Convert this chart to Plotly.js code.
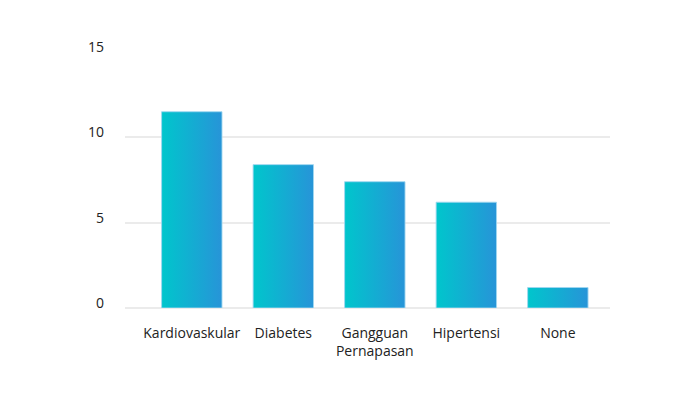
<!DOCTYPE html>
<html>
<head>
<meta charset="utf-8">
<script src="https://cdn.plot.ly/plotly-3.0.1.min.js"></script>
<style>html,body{margin:0;padding:0;background:#fff;}#chart{width:700px;height:394px;}</style>
</head>
<body>
<div id="chart"></div>
<script>
const categories = ["Kardiovaskular", "Diabetes", "Gangguan<br>Pernapasan", "Hipertensi", "None"];
const values = [11.5, 8.4, 7.4, 6.2, 1.2];
const yTicks = [0, 5, 10, 15];

const trace = {
  type: "bar",
  x: categories,
  y: values,
  marker: {color: "#12b0d2", line: {color: "rgba(160,215,240,0.9)", width: 1}},
  hoverinfo: "none"
};

const layout = {
  width: 700, height: 394,
  margin: {l: 125, r: 90, t: 52, b: 86},
  paper_bgcolor: "#fff", plot_bgcolor: "#fff",
  showlegend: false,
  bargap: 0.34,
  font: {family: "Open Sans, sans-serif", size: 14, color: "#222"},
  xaxis: {
    type: "category",
    range: [-0.73, 4.57],
    showgrid: false, showline: false, zeroline: false,
    ticks: "", ticklabelstandoff: 15,
    tickfont: {size: 14, color: "#222"}
  },
  yaxis: {
    range: [0, 15],
    tickvals: yTicks,
    showgrid: true, gridcolor: "#ebebeb", gridwidth: 2,
    zeroline: true, zerolinecolor: "#ebebeb", zerolinewidth: 2,
    showline: false, ticks: "", ticklabelstandoff: 20, ticklabelshift: -5,
    tickfont: {size: 14, color: "#222"}
  }
};

Plotly.newPlot("chart", [trace], layout, {displayModeBar: false, staticPlot: true}).then(function(gd){
  const svg = gd.querySelector("svg.main-svg");
  const ns = "http://www.w3.org/2000/svg";
  let defs = svg.querySelector("defs");
  if (!defs) { defs = document.createElementNS(ns, "defs"); svg.insertBefore(defs, svg.firstChild); }
  const grad = document.createElementNS(ns, "linearGradient");
  grad.setAttribute("id", "barGrad");
  grad.setAttribute("x1", "0"); grad.setAttribute("y1", "0");
  grad.setAttribute("x2", "1"); grad.setAttribute("y2", "0");
  [["0%", "#00c6cc"], ["100%", "#2794d8"]].forEach(function(s){
    const st = document.createElementNS(ns, "stop");
    st.setAttribute("offset", s[0]); st.setAttribute("stop-color", s[1]);
    grad.appendChild(st);
  });
  defs.appendChild(grad);
  gd.querySelectorAll(".barlayer .point path").forEach(function(p){
    p.style.fill = "url(#barGrad)";
    p.style.fillOpacity = 1;
  });
});
</script>
</body>
</html>
